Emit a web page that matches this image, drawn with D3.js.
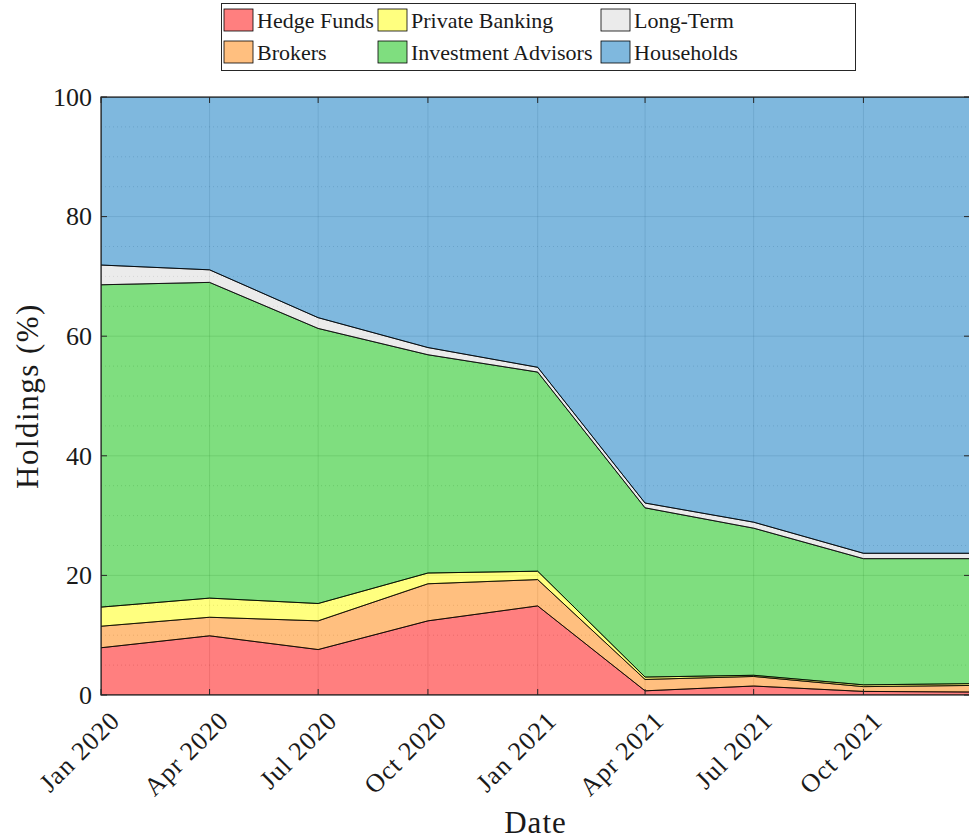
<!doctype html>
<html>
<head>
<meta charset="utf-8"/>
<script src="https://cdnjs.cloudflare.com/ajax/libs/d3/7.8.5/d3.min.js"></script>
<style>
  body { margin: 0; background: #fff; }
  text { font-family: "Liberation Serif", "DejaVu Serif", serif; fill: #1a1a1a; }
  .major { stroke: #262626; stroke-opacity: 0.15; stroke-width: 1px; }
  .minor { stroke: #262626; stroke-opacity: 0.2; stroke-width: 1px; stroke-dasharray: 1,3; }
  .layer { fill-opacity: 0.5; stroke: #000; stroke-width: 0.8px; }
</style>
</head>
<body>
<svg width="969" height="840"></svg>
<script>
// quarterly dates
var dates = ["2020-01-01", "2020-04-01", "2020-07-01", "2020-10-01", "2021-01-01",
             "2021-04-01", "2021-07-01", "2021-10-01", "2021-12-31"];
var tickLabels = ["Jan 2020", "Apr 2020", "Jul 2020", "Oct 2020", "Jan 2021",
                  "Apr 2021", "Jul 2021", "Oct 2021"];
var seriesNames = ["Hedge Funds", "Brokers", "Private Banking", "Investment Advisors", "Long-Term", "Households"];

// holdings in % (each layer thickness)
var hedgeFunds = [7.9, 9.9, 7.6, 12.4, 14.9, 0.7, 1.5, 0.6, 0.5];
var brokers = [3.6, 3.1, 4.8, 6.2, 4.4, 1.9, 1.6, 0.8, 1.1];
var privateBanking = [3.2, 3.2, 2.9, 1.8, 1.4, 0.4, 0.2, 0.3, 0.3];
var investmentAdvisors = [53.9, 52.8, 46.0, 36.5, 33.3, 28.3, 24.6, 21.1, 20.9];
var longTerm = [3.3, 2.1, 1.8, 1.2, 0.8, 0.8, 1.0, 0.9, 0.9];
var households = [28.1, 28.9, 36.9, 41.9, 45.2, 67.9, 71.1, 76.3, 76.3];

var colors = ["#ff0000", "#ff8000", "#ffff00", "#00bd00", "#d7d7d7", "#0072bd"];

var parse = d3.timeParse("%Y-%m-%d");
var rows = dates.map((d, i) => ({
  date: parse(d),
  "Hedge Funds": hedgeFunds[i],
  "Brokers": brokers[i],
  "Private Banking": privateBanking[i],
  "Investment Advisors": investmentAdvisors[i],
  "Long-Term": longTerm[i],
  "Households": households[i]
}));

var pL = 101, pR = 970, pT = 97, pB = 695;
var svg = d3.select("svg");

var x = d3.scaleTime().domain([parse("2020-01-01"), parse("2021-12-31")]).range([pL, 972]);
var y = d3.scaleLinear().domain([0, 100]).range([pB, pT]);

var tickDates = dates.slice(0, 8).map(parse);

svg.append("defs").append("clipPath").attr("id", "clip")
  .append("rect").attr("x", pL).attr("y", pT).attr("width", pR - pL).attr("height", pB - pT);

// grid
var grid = svg.append("g").attr("clip-path", "url(#clip)");
grid.selectAll(".minor").data(d3.range(5, 100, 5).filter(v => v % 20 != 0))
  .enter().append("line").attr("class", "minor")
  .attr("x1", pL).attr("x2", pR).attr("y1", d => y(d)).attr("y2", d => y(d));
grid.selectAll(".majy").data([20, 40, 60, 80])
  .enter().append("line").attr("class", "major")
  .attr("x1", pL).attr("x2", pR).attr("y1", d => y(d)).attr("y2", d => y(d));
grid.selectAll(".majx").data(tickDates.slice(1))
  .enter().append("line").attr("class", "major")
  .attr("x1", d => x(d)).attr("x2", d => x(d)).attr("y1", pT).attr("y2", pB);

// stacked areas
var stack = d3.stack().keys(seriesNames);
var layers = stack(rows);
var area = d3.area().x(d => x(d.data.date)).y0(d => y(d[0])).y1(d => y(d[1]));

svg.append("g").attr("clip-path", "url(#clip)")
  .selectAll("path").data(layers).enter().append("path")
  .attr("class", "layer")
  .attr("fill", (d, i) => colors[i])
  .attr("d", area);

// axes box
var axG = svg.append("g");
axG.append("rect").attr("x", pL).attr("y", pT).attr("width", pR - pL).attr("height", pB - pT)
  .attr("fill", "none").attr("stroke", "#262626").attr("stroke-width", 1.2);

var xAxis = d3.axisBottom(x).tickValues(tickDates).tickSize(0).tickFormat((d, i) => tickLabels[i]);
var gx = axG.append("g").attr("transform", "translate(0," + pB + ")").call(xAxis);
gx.select(".domain").remove();
gx.selectAll("text")
  .style("font-size", "26px")
  .style("letter-spacing", "1px")
  .attr("text-anchor", "end")
  .attr("dy", 0).attr("y", 0)
  .attr("transform", "translate(20,27) rotate(-45)");

// inward ticks
axG.selectAll(".xtb").data(tickDates).enter().append("line")
  .attr("x1", d => x(d)).attr("x2", d => x(d)).attr("y1", pB).attr("y2", pB - 6)
  .attr("stroke", "#262626");
axG.selectAll(".xtt").data(tickDates).enter().append("line")
  .attr("x1", d => x(d)).attr("x2", d => x(d)).attr("y1", pT).attr("y2", pT + 6)
  .attr("stroke", "#262626");

var yAxis = d3.axisLeft(y).tickValues([0, 20, 40, 60, 80, 100]).tickSize(0).tickPadding(9);
var gy = axG.append("g").attr("transform", "translate(" + pL + ",0)").call(yAxis);
gy.select(".domain").remove();
gy.selectAll("text").style("font-size", "26px");
axG.selectAll(".ytl").data([0, 20, 40, 60, 80, 100]).enter().append("line")
  .attr("x1", pL).attr("x2", pL + 6).attr("y1", d => y(d)).attr("y2", d => y(d))
  .attr("stroke", "#262626");
axG.selectAll(".ytr").data([0, 20, 40, 60, 80, 100]).enter().append("line")
  .attr("x1", pR - 6).attr("x2", pR).attr("y1", d => y(d)).attr("y2", d => y(d))
  .attr("stroke", "#262626");

// axis labels
svg.append("text").attr("x", (pL + pR) / 2).attr("y", 833)
  .attr("text-anchor", "middle").style("font-size", "31px").style("letter-spacing", "1px").text("Date");
svg.append("text").attr("transform", "translate(38," + ((pT + pB) / 2) + ") rotate(-90)")
  .attr("text-anchor", "middle").style("font-size", "31px").style("letter-spacing", "1.5px").text("Holdings (%)");

// legend
var legOrder = [
  {name: "Hedge Funds", col: 0, row: 0, ci: 0},
  {name: "Brokers", col: 0, row: 1, ci: 1},
  {name: "Private Banking", col: 1, row: 0, ci: 2},
  {name: "Investment Advisors", col: 1, row: 1, ci: 3},
  {name: "Long-Term", col: 2, row: 0, ci: 4},
  {name: "Households", col: 2, row: 1, ci: 5}
];
var colX = [224, 378, 601];
var leg = svg.append("g");
leg.append("rect").attr("x", 221.5).attr("y", 3.5).attr("width", 634).attr("height", 67)
  .attr("fill", "#fff").attr("stroke", "#262626").attr("stroke-width", 1);
var items = leg.selectAll(".item").data(legOrder).enter().append("g")
  .attr("transform", d => "translate(" + colX[d.col] + "," + (9 + d.row * 32) + ")");
items.append("rect").attr("width", 29).attr("height", 22)
  .attr("fill", d => colors[d.ci]).attr("fill-opacity", 0.5)
  .attr("stroke", "#000").attr("stroke-width", 0.8);
items.append("text").attr("x", 33).attr("y", 19).style("font-size", "22px").text(d => d.name);
</script>
</body>
</html>
